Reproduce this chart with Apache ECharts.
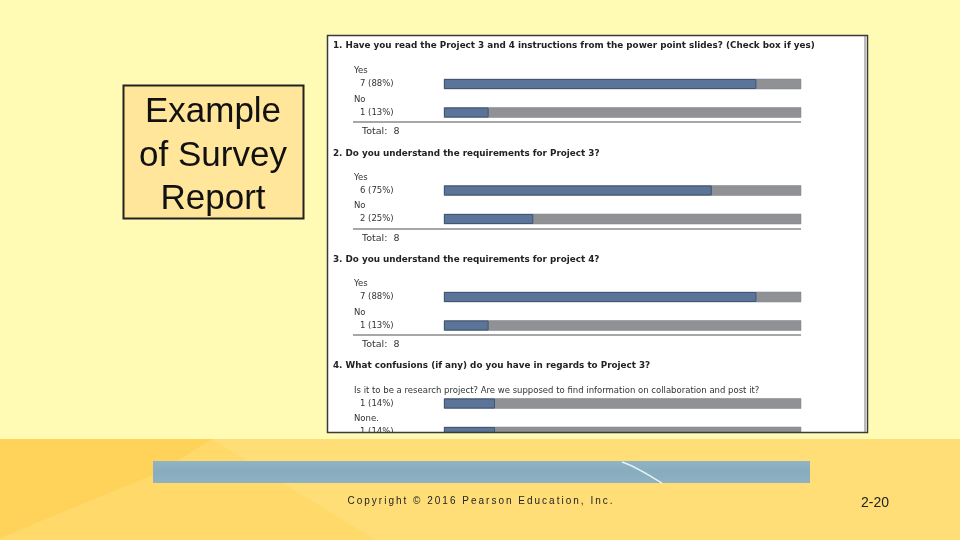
<!DOCTYPE html>
<html><head><meta charset="utf-8">
<script src="https://cdn.jsdelivr.net/npm/echarts@6/dist/echarts.min.js"></script>
<style>html,body{margin:0;padding:0;background:#FFFAB4}#c{width:960px;height:540px}</style>
</head><body><div id="c"></div>
<script>
// ---- data ----
const questionTitles = [
  '1. Have you read the Project 3 and 4 instructions from the power point slides? (Check box if yes)',
  '2. Do you understand the requirements for Project 3?',
  '3. Do you understand the requirements for project 4?',
  '4. What confusions (if any) do you have in regards to Project 3?'
];
const q1Answers = ['Yes', 'No'];
const q1Counts = [7, 1];
const q2Answers = ['Yes', 'No'];
const q2Counts = [6, 2];
const q3Answers = ['Yes', 'No'];
const q3Counts = [7, 1];
const q4Answers = ['Is it to be a research project? Are we supposed to find information on collaboration and post it?', 'None.'];
const q4Counts = [1, 1];
const respondents = [8, 8, 8, 7];
const showTotal = [true, true, true, false];
const slideTitle = 'Example\nof Survey\nReport';
const copyright = 'Copyright \u00A9 2016 Pearson Education, Inc.';
const slideNumber = '2-20';

// ---- layout ----
const answers = [q1Answers, q2Answers, q3Answers, q4Answers];
const counts = [q1Counts, q2Counts, q3Counts, q4Counts];
const firstRowY = [84, 190.5, 297, 403.5];
const rowH = 28.5;
const barLeft = 444, barRight = 801;
const surveyFont = 'DejaVu Sans';
const txtColor = '#333';

const chart = echarts.init(document.getElementById('c'), null, {renderer: 'canvas'});

const grids = [], xAxes = [], yAxes = [], series = [];
answers.forEach((ans, i) => {
  const top = firstRowY[i] - rowH / 2;
  grids.push({left: barLeft, width: barRight - barLeft, top: top, height: rowH * 2, containLabel: false});
  xAxes.push({gridIndex: i, type: 'value', min: 0, max: respondents[i], show: false});
  yAxes.push({
    gridIndex: i, type: 'category', data: ans, inverse: true, z: 10,
    axisLine: {show: false}, axisTick: {show: false}, splitLine: {show: false},
    axisLabel: {
      show: true, interval: 0, hideOverlap: false, showMinLabel: true, showMaxLabel: true,
      align: 'left', margin: barLeft - 354, verticalAlign: 'middle',
      formatter: (val, idx) => {
        const c = counts[i][idx];
        const pct = Math.round(c / respondents[i] * 100);
        return '{n|' + val + '}\n{c|' + c + ' (' + pct + '%)}\n{e| }';
      },
      rich: {
        n: {fontFamily: surveyFont, fontSize: 8.5, color: txtColor, lineHeight: 13},
        c: {fontFamily: surveyFont, fontSize: 8.5, color: txtColor, lineHeight: 13, padding: [0, 0, 0, 6]},
        e: {fontFamily: surveyFont, fontSize: 8.5, lineHeight: 13}
      }
    }
  });
  series.push({
    type: 'bar', xAxisIndex: i, yAxisIndex: i, data: counts[i], barWidth: 10, z: 10,
    showBackground: true,
    backgroundStyle: {color: '#8F9195', borderColor: '#7f8185', borderWidth: 0.5},
    itemStyle: {color: '#5B7497', borderColor: '#3E5677', borderWidth: 1},
    silent: true, animation: false
  });
});

const graphics = [];
// bottom band background
graphics.push({type: 'rect', z: 50, shape: {x: 0, y: 432.5, width: 960, height: 7}, style: {fill: '#FFFAB4'}});
graphics.push({type: 'rect', z: 50, shape: {x: 0, y: 439, width: 960, height: 101}, style: {fill: '#FFDE78'}});
graphics.push({type: 'polygon', z: 51, shape: {points: [[0,439],[212,439],[375,540],[0,540]]}, style: {fill: '#FFD96A'}});
graphics.push({type: 'polygon', z: 52, shape: {points: [[0,439],[212,439],[160,472],[0,538]]}, style: {fill: '#FFD35A'}});
// textured blue strip
graphics.push({type: 'rect', z: 53, shape: {x: 153, y: 461, width: 657, height: 22},
  style: {fill: new echarts.graphic.LinearGradient(0,0,0,1,[{offset:0,color:'#90B4C4'},{offset:0.5,color:'#87ACBD'},{offset:1,color:'#8EB2C2'}])}});
graphics.push({type: 'bezierCurve', z: 54, shape: {x1: 622, y1: 462, x2: 662, y2: 483, cpx1: 635, cpy1: 466, cpx2: 650, cpy2: 476},
  style: {stroke: '#E6F0F4', lineWidth: 1.5, fill: null}});
graphics.push({type: 'text', z: 55, x: 480, y: 501, style: {text: copyright.split('').join('\u2009'), font: '10px "Liberation Sans Narrow", "Liberation Sans", sans-serif', fill: '#222', align: 'center', verticalAlign: 'middle'}});
graphics.push({type: 'text', z: 55, x: 875, y: 503, style: {text: slideNumber, font: '14px "Liberation Sans Narrow", "Liberation Sans", sans-serif', fill: '#222', align: 'center', verticalAlign: 'middle'}});

// title box
graphics.push({type: 'rect', z: 1, shape: {x: 123.5, y: 85.5, width: 180, height: 133}, style: {fill: '#FFE69A', stroke: '#222', lineWidth: 2}});
graphics.push({type: 'text', z: 2, x: 213, y: 156, style: {text: slideTitle, font: '35px "Liberation Sans", Arial, sans-serif', fill: '#111', align: 'center', verticalAlign: 'middle', lineHeight: 43.5}});

// survey panel
graphics.push({type: 'rect', z: 1, shape: {x: 327.5, y: 35.5, width: 540, height: 397}, style: {fill: '#FFFFFF'}});
graphics.push({type: 'rect', z: 60, shape: {x: 327.5, y: 35.5, width: 540, height: 397}, style: {fill: null, stroke: '#3a3a3a', lineWidth: 1.5}});
graphics.push({type: 'line', z: 60, shape: {x1: 865, y1: 36, x2: 865, y2: 432}, style: {stroke: '#777', lineWidth: 1}});

const headerY = [46, 154, 260, 366];
const sepY = [122, 229, 335];
questionTitles.forEach((t, i) => {
  graphics.push({type: 'text', z: 20, x: 333, y: headerY[i], style: {text: t, font: 'bold 8.8px "DejaVu Sans"', fill: '#222', verticalAlign: 'middle'}});
  if (showTotal[i]) {
    graphics.push({type: 'line', z: 20, shape: {x1: 353, y1: sepY[i], x2: 801, y2: sepY[i]}, style: {stroke: '#8a8a8a', lineWidth: 1.5}});
    const total = counts[i].reduce((a, b) => a + b, 0);
    graphics.push({type: 'text', z: 20, x: 362, y: sepY[i] + 9.5, style: {text: 'Total:  ' + total, font: '9.5px "DejaVu Sans"', fill: txtColor, verticalAlign: 'middle'}});
  }
});

chart.setOption({
  animation: false,
  grid: grids, xAxis: xAxes, yAxis: yAxes, series: series,
  graphic: {elements: graphics}
});
</script></body></html>
